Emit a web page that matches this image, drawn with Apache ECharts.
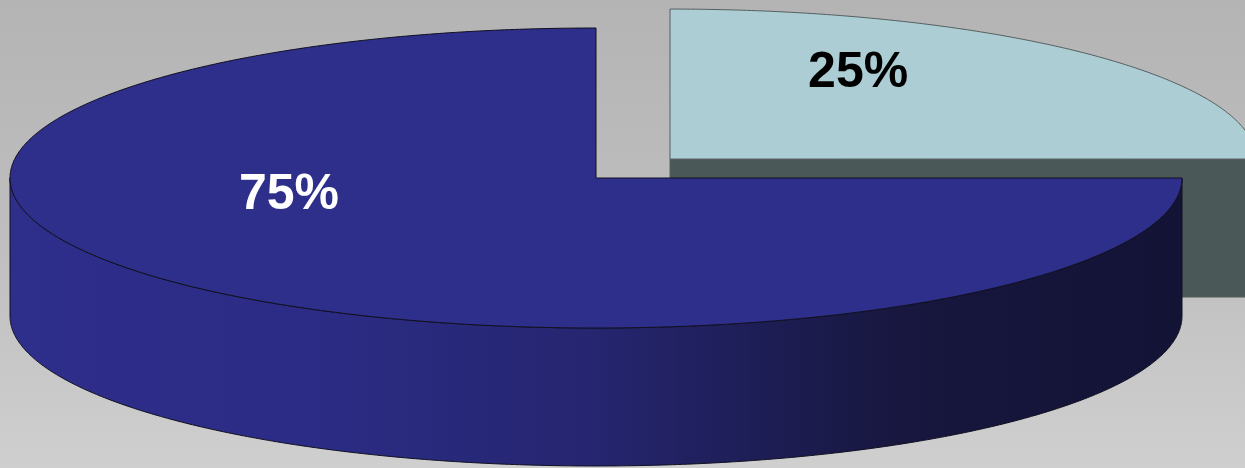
<!DOCTYPE html>
<html>
<head>
<meta charset="utf-8">
<script src="https://cdn.jsdelivr.net/npm/echarts@6/dist/echarts.min.js"></script>
<style>
  html, body { margin: 0; padding: 0; }
  #main { width: 1245px; height: 468px; }
</style>
</head>
<body>
<div id="main"></div>
<script>
// 数据
var categories = ['A', 'B'];
var values = [75, 25];
var labelTexts = ['75%', '25%'];

// 布局（像素 / 比例）
var CX = 596, CY = 178, RX = 586, RY = 150, DEPTH = 138;
var START_ANGLE = 90;          // 从正上方开始，逆时针
var explode = [0, 0.1786];     // 沿中角方向的外移比例
var labelOffset = [[-0.524, 0.113], [0.321, -0.573]]; // 标签相对扇区中心（按半径归一）

var topColors = ['#2e2e8b', '#abcdd3'];
var faceColors = ['#2a2a7e', '#4a5858'];
var outlineColors = ['#101020', '#555f60'];
var labelColors = ['#ffffff', '#000000'];
var wallGradient = {
  type: 'linear', x: CX - RX, y: 0, x2: CX + RX, y2: 0, global: true,
  colorStops: [
    { offset: 0, color: '#2e2e8b' },
    { offset: 0.25, color: '#2c2c86' },
    { offset: 0.5, color: '#252570' },
    { offset: 0.76, color: '#17173f' },
    { offset: 1, color: '#131336' }
  ]
};

// 角度累计
var total = values.reduce(function (a, b) { return a + b; }, 0);
var acc = START_ANGLE;
var seriesData = values.map(function (v, i) {
  var s = acc, e = acc + v / total * 360;
  acc = e;
  return { name: categories[i], value: [v, s, e] };
});

function rad(d) { return d * Math.PI / 180; }
function pt(cx, cy, a, dy) {
  return [cx + RX * Math.cos(rad(a)), cy - RY * Math.sin(rad(a)) + (dy || 0)];
}
function arc(cx, cy, a0, a1, dy) {
  var pts = [], n = Math.max(2, Math.ceil(Math.abs(a1 - a0) / 0.5));
  for (var k = 0; k <= n; k++) pts.push(pt(cx, cy, a0 + (a1 - a0) * k / n, dy));
  return pts;
}

function renderItem(params, api) {
  var i = params.dataIndex;
  var s = api.value(1), e = api.value(2);
  var mid = (s + e) / 2;
  var ex = explode[i];
  var cx = CX + ex * RX * Math.cos(rad(mid));
  var cy = CY - ex * RY * Math.sin(rad(mid));
  var zb = Math.round(-Math.sin(rad(mid)) * 10) + 10;
  var children = [];
  var line = { stroke: outlineColors[i], lineWidth: 1 };

  // 切面
  var faceAngles = [];
  if (Math.cos(rad(s)) > 1e-6) faceAngles.push(s);
  if (Math.cos(rad(e)) < -1e-6) faceAngles.push(e);
  faceAngles.forEach(function (a) {
    var p = pt(cx, cy, a);
    children.push({
      type: 'polygon', z2: zb,
      shape: { points: [[cx, cy], p, [p[0], p[1] + DEPTH], [cx, cy + DEPTH]] },
      style: { fill: faceColors[i], stroke: outlineColors[i], lineWidth: 1 }
    });
  });

  // 外侧面（朝前的 180°~360° 部分）
  [[180, 360], [540, 720]].forEach(function (r) {
    var a0 = Math.max(s, r[0]), a1 = Math.min(e, r[1]);
    if (a1 - a0 > 0.01) {
      var pts = arc(cx, cy, a0, a1).concat(arc(cx, cy, a1, a0, DEPTH));
      children.push({
        type: 'polygon', z2: zb + 1,
        shape: { points: pts },
        style: { fill: wallGradient, stroke: outlineColors[i], lineWidth: 1 }
      });
    }
  });

  // 顶面
  children.push({
    type: 'polygon', z2: zb + 2,
    shape: { points: [[cx, cy]].concat(arc(cx, cy, s, e)) },
    style: Object.assign({ fill: topColors[i] }, line)
  });

  // 标签
  children.push({
    type: 'text', z2: zb + 3,
    x: cx + labelOffset[i][0] * RX,
    y: cy + labelOffset[i][1] * RY,
    style: {
      text: labelTexts[i],
      fill: labelColors[i],
      font: 'bold 50px "Liberation Sans", Arial, sans-serif',
      align: 'center',
      verticalAlign: 'middle'
    }
  });

  return { type: 'group', children: children };
}

var myChart = echarts.init(document.getElementById('main'));
var option = {
  animation: false,
  backgroundColor: {
    type: 'linear', x: 0, y: 0, x2: 0, y2: 1,
    colorStops: [
      { offset: 0, color: '#b4b4b4' },
      { offset: 0.5, color: '#bebebe' },
      { offset: 1, color: '#cecfce' }
    ]
  },
  series: [{
    type: 'custom',
    coordinateSystem: 'none',
    renderItem: renderItem,
    data: seriesData
  }]
};
myChart.setOption(option);
</script>
</body>
</html>
